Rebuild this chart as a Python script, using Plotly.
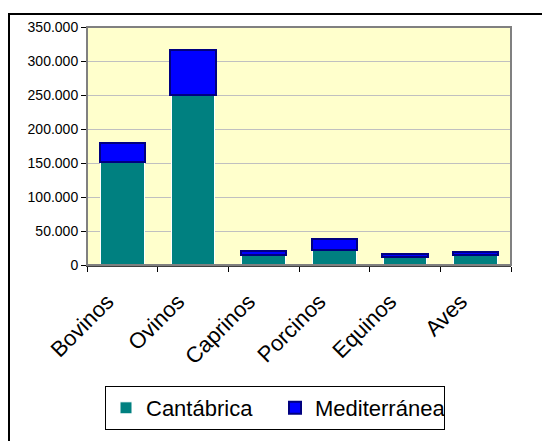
import plotly.graph_objects as go

categories = ["Bovinos", "Ovinos", "Caprinos", "Porcinos", "Equinos", "Aves"]
cantabrica = [152000, 250000, 14200, 21500, 11700, 14200]
mediterranea = [27000, 66000, 6500, 17000, 5000, 5000]
y_ticks = [0, 50000, 100000, 150000, 200000, 250000, 300000, 350000]

fig = go.Figure()
fig.add_trace(go.Bar(
    x=categories, y=cantabrica, name="Cantábrica",
    marker=dict(color="#008080", line=dict(color="#FFFFFF", width=1)),
    width=0.62,
))
fig.add_trace(go.Bar(
    x=categories, y=mediterranea, name="Mediterránea",
    marker=dict(color="#0000FF", line=dict(color="#000080", width=2)),
    width=0.64,
))

fig.update_layout(
    width=542, height=441,
    margin=dict(l=87, r=31, t=27, b=175),
    barmode="stack",
    separators=",.",
    paper_bgcolor="#FFFFFF",
    plot_bgcolor="#FFFFCC",
    font=dict(family="Liberation Sans, Arial, sans-serif", color="#000000"),
    showlegend=True,
    legend=dict(
        orientation="h",
        traceorder="normal",
        x=(275 - 87) / 424, xanchor="center",
        y=(266 - 386) / 239, yanchor="top",
        bgcolor="#FFFFFF", bordercolor="#000000", borderwidth=1,
        font=dict(size=22),
        entrywidth=124, entrywidthmode="pixels",
    ),
    xaxis=dict(
        type="category",
        tickangle=-45,
        tickfont=dict(size=22),
        ticks="outside", ticklen=5, tickcolor="#000000",
        tickson="boundaries",
        ticklabelstandoff=13,
        ticklabelshift=-15,
        showline=True, linecolor="#404040", linewidth=2,
        mirror=False,
        showgrid=False,
    ),
    yaxis=dict(
        range=[0, 350000],
        tickvals=y_ticks,
        tickformat=",d",
        tickfont=dict(size=14),
        ticks="outside", ticklen=5, tickcolor="#000000",
        showline=True, linecolor="#000000", linewidth=1,
        showgrid=True, gridcolor="#C0C0C0", gridwidth=1,
        zeroline=False,
    ),
    shapes=[
        dict(type="rect", xref="paper", yref="paper", x0=0, x1=1, y0=0, y1=1,
             line=dict(color="#808080", width=2), layer="above"),
        dict(type="rect", xref="paper", yref="paper",
             x0=(9 - 87) / 424, x1=(560 - 87) / 424,
             y0=(266 - 460) / 239, y1=(266 - 14) / 239,
             line=dict(color="#000000", width=2), layer="above"),
    ],
)

fig.write_html("out.html")
